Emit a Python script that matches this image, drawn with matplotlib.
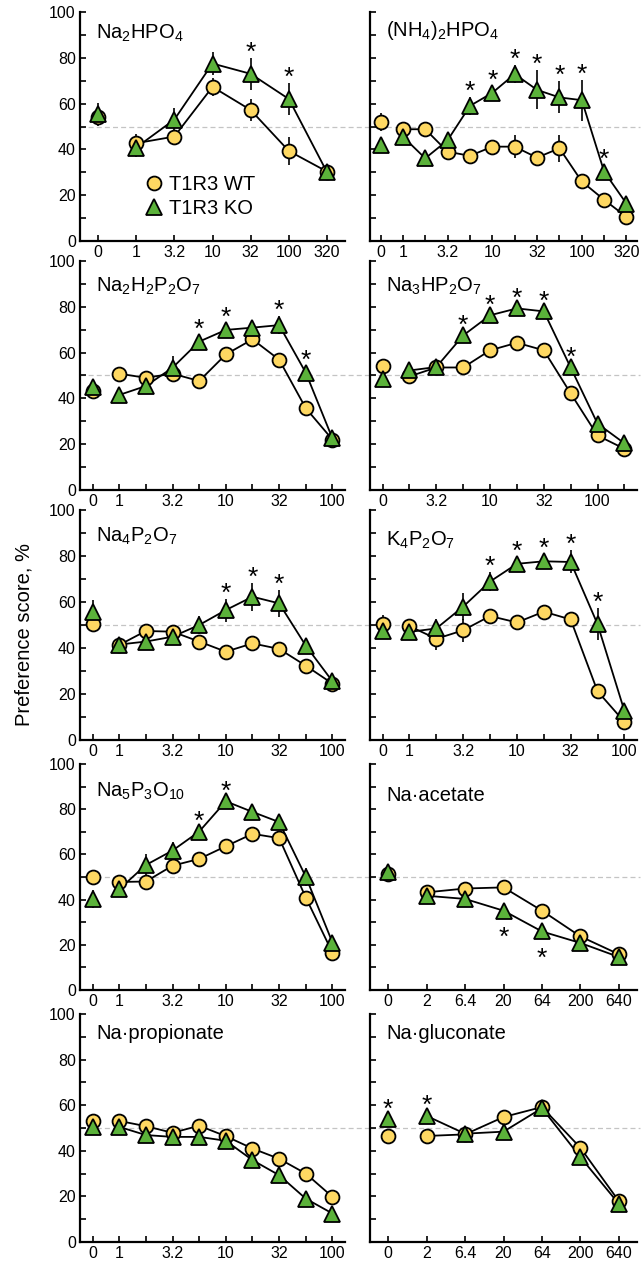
import matplotlib
matplotlib.use('Agg')
import matplotlib.pyplot as plt
from matplotlib.lines import Line2D
import numpy as np

plt.rcParams['font.family'] = ['Liberation Sans', 'DejaVu Sans']
plt.rcParams['mathtext.fontset'] = 'custom'
plt.rcParams['mathtext.rm'] = 'Liberation Sans'
plt.rcParams['mathtext.default'] = 'rm'

# ---- data (preference score, %) ----
titles = [r'Na$_2$HPO$_4$', r'(NH$_4$)$_2$HPO$_4$',
          r'Na$_2$H$_2$P$_2$O$_7$', r'Na$_3$HP$_2$O$_7$',
          r'Na$_4$P$_2$O$_7$', r'K$_4$P$_2$O$_7$',
          r'Na$_5$P$_3$O$_{10}$', 'Na\u00b7acetate',
          'Na\u00b7propionate', 'Na\u00b7gluconate']

labels_7 = ['0', '1', '3.2', '10', '32', '100', '320']
labels_12 = ['0', '1', '', '3.2', '', '10', '', '32', '', '100', '', '320']
labels_10 = ['0', '1', '', '3.2', '', '10', '', '32', '', '100']
labels_10b = ['0', '', '3.2', '', '10', '', '32', '', '100', '']
labels_salt = ['0', '2', '6.4', '20', '64', '200', '640']

wt_na2hpo4 = [54.3, 42.7, 45.6, 67.3, 57.2, 39.3, 30.3]
ko_na2hpo4 = [55.4, 40.8, 53.0, 77.5, 73.0, 62.0, 30.0]
wt_err_na2hpo4 = [3, 4, 3, 4, 5, 6, 2]
ko_err_na2hpo4 = [5, 4, 5, 5, 7, 7, 2]
stars_na2hpo4 = [4, 5]

wt_nh4 = [52.1, 48.8, 48.8, 39.0, 37.2, 41.2, 41.2, 36.4, 40.5, 26.0, 18.0, 10.5]
ko_nh4 = [42.0, 45.6, 36.1, 44.0, 59.0, 64.7, 72.9, 66.0, 62.7, 61.5, 30.3, 16.3]
wt_err_nh4 = [4, 3, 3, 2, 2, 2, 5, 2, 6, 2, 2, 2]
ko_err_nh4 = [2, 3, 2, 3, 4, 3, 4, 8.5, 7, 9, 3, 2]
stars_nh4 = [4, 5, 6, 7, 8, 9, 10]

wt_na2h2 = [43.2, 50.8, 49.0, 50.8, 47.6, 59.2, 65.8, 56.9, 35.7, 22.0]
ko_na2h2 = [45.0, 41.5, 45.4, 53.4, 64.8, 69.9, 70.9, 72.0, 51.2, 22.5]
wt_err_na2h2 = [2, 2, 2, 2, 2, 2, 2, 2, 2, 2]
ko_err_na2h2 = [3, 2, 2, 5, 3, 3, 3, 4, 3, 2]
stars_na2h2 = [4, 5, 7, 8]

wt_na3h = [54.0, 49.6, 53.5, 53.5, 61.0, 64.3, 61.0, 42.2, 23.8, 18.0]
ko_na3h = [48.5, 52.2, 53.7, 67.5, 76.3, 79.3, 78.0, 53.5, 29.0, 20.4]
wt_err_na3h = [2, 2, 2, 2, 2, 2, 2, 2, 2, 2]
ko_err_na3h = [2, 2, 2, 2, 2, 2, 2, 2, 2, 2]
stars_na3h = [3, 4, 5, 6, 7]

wt_na4 = [50.4, 41.3, 47.4, 47.1, 42.8, 38.4, 42.0, 39.6, 32.3, 24.5]
ko_na4 = [55.8, 41.5, 42.8, 44.9, 50.0, 56.5, 62.3, 59.4, 41.0, 25.5]
wt_err_na4 = [3, 3, 2, 2, 2, 2, 2, 2, 3, 2]
ko_err_na4 = [5, 2, 3, 3, 4, 5, 6, 6, 3, 2]
stars_na4 = [5, 6, 7]

wt_k4 = [50.4, 49.5, 44.0, 47.7, 53.9, 51.1, 55.8, 52.4, 21.2, 7.9]
ko_k4 = [47.4, 47.0, 48.5, 58.0, 68.9, 76.6, 77.7, 77.4, 50.4, 12.7]
wt_err_k4 = [4, 3, 5, 5, 3, 2, 3, 2, 2, 2]
ko_err_k4 = [3, 2, 4, 6, 4, 3, 3, 5, 7, 2]
stars_k4 = [4, 5, 6, 7, 8]

wt_na5 = [50.2, 47.8, 48.0, 55.0, 58.0, 63.6, 69.1, 67.2, 40.9, 16.5]
ko_na5 = [40.1, 44.6, 55.3, 61.7, 70.1, 83.5, 78.8, 74.3, 50.1, 21.0]
wt_err_na5 = [2, 3, 3, 3, 3, 2, 2, 2, 2, 2]
ko_err_na5 = [4, 2, 5, 4, 2, 2, 2, 3, 4, 2]
stars_na5 = [4, 5]

wt_acet = [51.5, 43.2, 44.9, 45.4, 35.1, 23.7, 15.8]
ko_acet = [52.0, 41.7, 40.3, 35.1, 25.9, 20.8, 14.6]
wt_err_acet = [2, 2, 2, 2, 2, 2, 2]
ko_err_acet = [2, 2, 2, 2, 2, 2, 2]
stars_acet = [3, 4]

wt_prop = [53.1, 53.1, 50.8, 47.9, 51.0, 46.4, 41.0, 36.5, 30.0, 19.8]
ko_prop = [50.5, 50.5, 46.9, 46.1, 46.1, 44.4, 35.9, 29.3, 19.0, 12.5]
wt_err_prop = [2, 2, 2, 2, 2, 2, 2, 2, 2, 2]
ko_err_prop = [2, 2, 3, 2, 2, 2, 2, 2, 2, 2]
stars_prop = []

wt_gluc = [46.5, 46.5, 47.2, 54.8, 59.2, 41.3, 17.9]
ko_gluc = [53.8, 55.3, 47.5, 48.4, 58.7, 37.2, 16.7]
wt_err_gluc = [2, 2, 2, 2, 2, 2, 2]
ko_err_gluc = [2, 2, 2, 2, 2, 2, 2]
stars_gluc = [0, 1]

panels = [
    (labels_7, wt_na2hpo4, ko_na2hpo4, wt_err_na2hpo4, ko_err_na2hpo4, stars_na2hpo4),
    (labels_12, wt_nh4, ko_nh4, wt_err_nh4, ko_err_nh4, stars_nh4),
    (labels_10, wt_na2h2, ko_na2h2, wt_err_na2h2, ko_err_na2h2, stars_na2h2),
    (labels_10b, wt_na3h, ko_na3h, wt_err_na3h, ko_err_na3h, stars_na3h),
    (labels_10, wt_na4, ko_na4, wt_err_na4, ko_err_na4, stars_na4),
    (labels_10, wt_k4, ko_k4, wt_err_k4, ko_err_k4, stars_k4),
    (labels_10, wt_na5, ko_na5, wt_err_na5, ko_err_na5, stars_na5),
    (labels_salt, wt_acet, ko_acet, wt_err_acet, ko_err_acet, stars_acet),
    (labels_10, wt_prop, ko_prop, wt_err_prop, ko_err_prop, stars_prop),
    (labels_salt, wt_gluc, ko_gluc, wt_err_gluc, ko_err_gluc, stars_gluc),
]

# ---- layout (pixels) ----
W, H = 643, 1265
col_x = [(80, 345), (370, 637)]
row_y = [(12, 241), (261, 490), (510, 740), (764, 990), (1014, 1242)]
title_drop = [13, 10, 17, 17, 18, 22, 19, 23, 11, 11]
stars_below = [7]

WT_COLOR = '#fed862'
KO_COLOR = '#5bb23a'


def draw_panel(ax, i, data):
    """Draw one concentration-response panel"""
    labels, wt, ko, wt_err, ko_err, stars = data
    x = np.arange(len(labels))
    wt = np.array(wt)
    ko = np.array(ko)
    wt_err = np.array(wt_err)
    ko_err = np.array(ko_err)

    # grey 50% line, carried across the gap on the left column
    xmax = 1 + 25 / 265 if i % 2 == 0 else 1.01
    ax.axhline(50, xmin=0, xmax=xmax, color='#c4c4c4', lw=0.9,
               dashes=(4, 2.5), zorder=0, clip_on=False)

    ax.errorbar(x, wt, yerr=wt_err, fmt='none', ecolor='k', elinewidth=1.2,
                capsize=0, zorder=1, clip_on=False)
    ax.errorbar(x, ko, yerr=ko_err, fmt='none', ecolor='k', elinewidth=1.2,
                capsize=0, zorder=1, clip_on=False)

    # first point (water) is not joined to the series
    ax.plot(x[1:], wt[1:], color='k', lw=1.3, zorder=2)
    ax.plot(x[1:], ko[1:], color='k', lw=1.3, zorder=2)
    ax.plot(x, wt, ls='none', marker='o', ms=10, mfc=WT_COLOR, mec='k',
            mew=1.3, zorder=3, clip_on=False)
    ax.plot(x, ko, ls='none', marker='^', ms=11, mfc=KO_COLOR, mec='k',
            mew=1.3, zorder=4, clip_on=False)

    for s in stars:
        if i in stars_below:
            y = ko[s] - ko_err[s] - 13
        else:
            y = ko[s] + ko_err[s] - 0.8
        ax.text(x[s], y, '*', ha='center', va='baseline', fontsize=19)

    ax.set_xlim(-0.47, len(labels) - 1 + 0.47)
    ax.set_ylim(0, 100)
    ax.set_xticks(x)
    ax.set_xticklabels(labels)
    ax.set_yticks(np.arange(0, 101, 20))
    ax.set_yticks(np.arange(10, 100, 20), minor=True)
    if i % 2 == 1:
        ax.set_yticklabels([])
    ax.tick_params(which='both', direction='in', length=4, width=1.2,
                   labelsize=11.5, pad=3)
    for side in ['top', 'right']:
        ax.spines[side].set_visible(False)
    for side in ['left', 'bottom']:
        ax.spines[side].set_linewidth(1.6)

    title_y = 1 - (title_drop[i] + 14) / 229
    ax.text(0.06, title_y, titles[i], transform=ax.transAxes,
            ha='left', va='baseline', fontsize=14.5)


fig = plt.figure(figsize=(W / 100, H / 100), dpi=100)
axes = []
for i, data in enumerate(panels):
    x0, x1 = col_x[i % 2]
    y0, y1 = row_y[i // 2]
    ax = fig.add_axes([x0 / W, 1 - y1 / H, (x1 - x0) / W, (y1 - y0) / H])
    draw_panel(ax, i, data)
    axes.append(ax)

handles = [Line2D([], [], ls='none', marker='o', ms=10, mfc=WT_COLOR,
                  mec='k', mew=1.3, label='T1R3 WT'),
           Line2D([], [], ls='none', marker='^', ms=11, mfc=KO_COLOR,
                  mec='k', mew=1.3, label='T1R3 KO')]
axes[0].legend(handles=handles, loc='lower left', bbox_to_anchor=(0.245, 0.1),
               frameon=False, fontsize=14.5, handlelength=0.9,
               handletextpad=0.3, labelspacing=0.25, borderpad=0,
               borderaxespad=0)

fig.text(24 / W, 1 - 634 / H, 'Preference score, %', rotation=90,
         ha='center', va='center', fontsize=14.5)

fig.savefig('out.png', dpi=100)
